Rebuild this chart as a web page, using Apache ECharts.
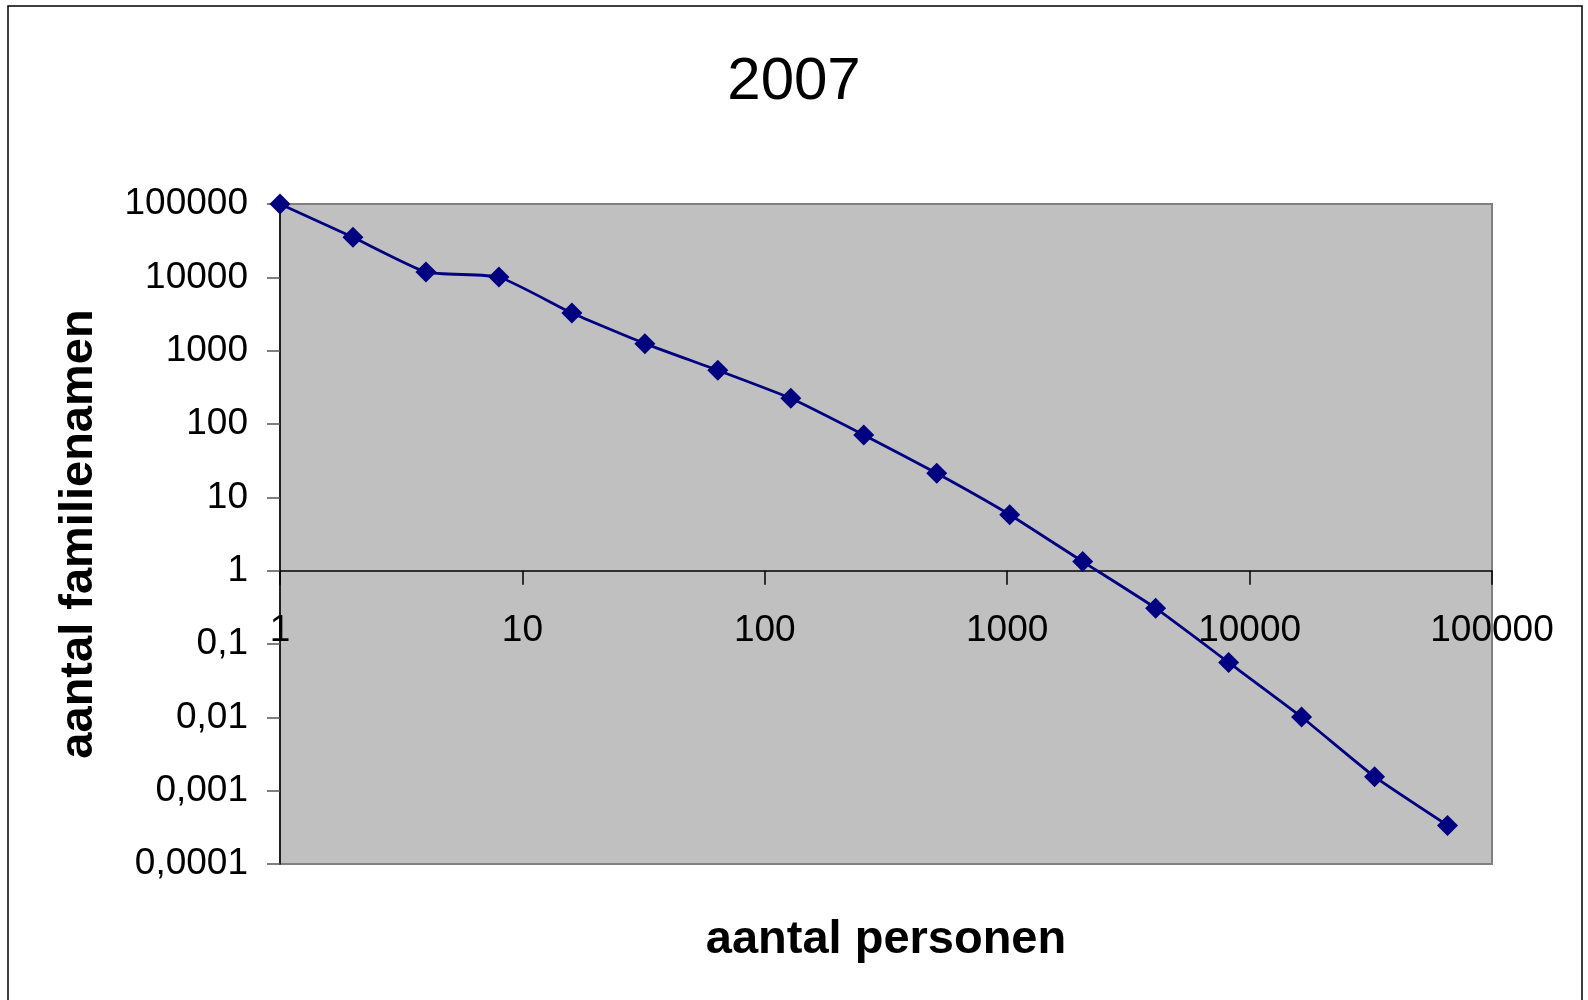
<!DOCTYPE html>
<html>
<head>
<meta charset="utf-8">
<script src="https://cdn.jsdelivr.net/npm/echarts@6/dist/echarts.min.js"></script>
<style>
html,body{margin:0;padding:0;background:#fff;}
#chart{width:1588px;height:1000px;}
</style>
</head>
<body>
<div id="chart"></div>
<script>
// Data (log-log chart)
const titleText = '2007';
const xName = 'aantal personen';
const yName = 'aantal familienamen';
const xValues = [1, 2, 4, 8, 16, 32, 64, 128, 256, 512, 1024, 2048, 4096, 8192, 16384, 32768, 65536];
const yValues = [100000, 35100, 11800, 10100, 3260, 1247, 540, 224, 71, 21.3, 5.8, 1.33, 0.308, 0.056, 0.0101, 0.00155, 0.000336];
const xTickLabels = ['1', '10', '100', '1000', '10000', '100000'];
const yTickLabels = ['0,0001', '0,001', '0,01', '0,1', '1', '10', '100', '1000', '10000', '100000'];

const FONT = '"Liberation Sans", Arial, sans-serif';
const gridTop = 204, gridBottom = 136, gridLeft = 280, gridRight = 96;
const gridHeight = 1000 - gridTop - gridBottom;
// x axis crosses y at 1 -> 4 of 9 decades above the bottom
const xAxisOffset = -gridHeight * 4 / 9;

const chart = echarts.init(document.getElementById('chart'), null, {renderer: 'canvas'});
chart.setOption({
  animation: false,
  backgroundColor: '#ffffff',
  title: {
    text: titleText,
    left: 'center',
    top: 47,
    textStyle: {fontFamily: FONT, fontSize: 60, fontWeight: 'normal', color: '#000'}
  },
  graphic: [{
    type: 'rect',
    shape: {x: 8, y: 6, width: 1574, height: 1010},
    style: {fill: 'none', stroke: '#000', lineWidth: 1.5},
    silent: true,
    z: -1
  }],
  grid: {
    left: gridLeft, right: gridRight, top: gridTop, bottom: gridBottom,
    show: true, backgroundColor: '#C0C0C0', borderColor: '#808080', borderWidth: 2
  },
  xAxis: {
    type: 'log', logBase: 10, min: 1, max: 100000, splitNumber: 5,
    position: 'bottom', offset: xAxisOffset,
    name: xName, nameLocation: 'middle', nameGap: 346,
    nameTextStyle: {fontFamily: FONT, fontSize: 47, fontWeight: 'bold', color: '#000'},
    axisLine: {show: true, lineStyle: {color: '#000', width: 1.5}},
    axisTick: {show: true, length: 14, inside: false, lineStyle: {color: '#000', width: 1.5}},
    minorTick: {show: false},
    splitLine: {show: false},
    axisLabel: {
      margin: 42, fontFamily: FONT, fontSize: 37, color: '#000',
      showMinLabel: true, showMaxLabel: true,
      formatter: v => xTickLabels[Math.round(Math.log10(v))]
    }
  },
  yAxis: {
    type: 'log', logBase: 10, min: 0.0001, max: 100000, splitNumber: 9,
    name: yName, nameLocation: 'middle', nameGap: 177, nameRotate: 90,
    nameTextStyle: {fontFamily: FONT, fontSize: 47, fontWeight: 'bold', color: '#000'},
    axisLine: {show: true, lineStyle: {color: '#000', width: 1.5}},
    axisTick: {show: true, length: 13, inside: false, lineStyle: {color: '#555', width: 1.5}},
    splitLine: {show: false},
    axisLabel: {
      margin: 32, fontFamily: FONT, fontSize: 37, color: '#000',
      showMinLabel: true, showMaxLabel: true,
      formatter: v => yTickLabels[Math.round(Math.log10(v)) + 4]
    }
  },
  series: [{
    type: 'line',
    data: xValues.map((x, i) => [x, yValues[i]]),
    smooth: 0.15,
    symbol: 'diamond',
    symbolSize: [21, 21],
    showAllSymbol: true,
    clip: false,
    lineStyle: {color: '#000080', width: 2.8},
    itemStyle: {color: '#000080', borderWidth: 0}
  }]
});
</script>
</body>
</html>
